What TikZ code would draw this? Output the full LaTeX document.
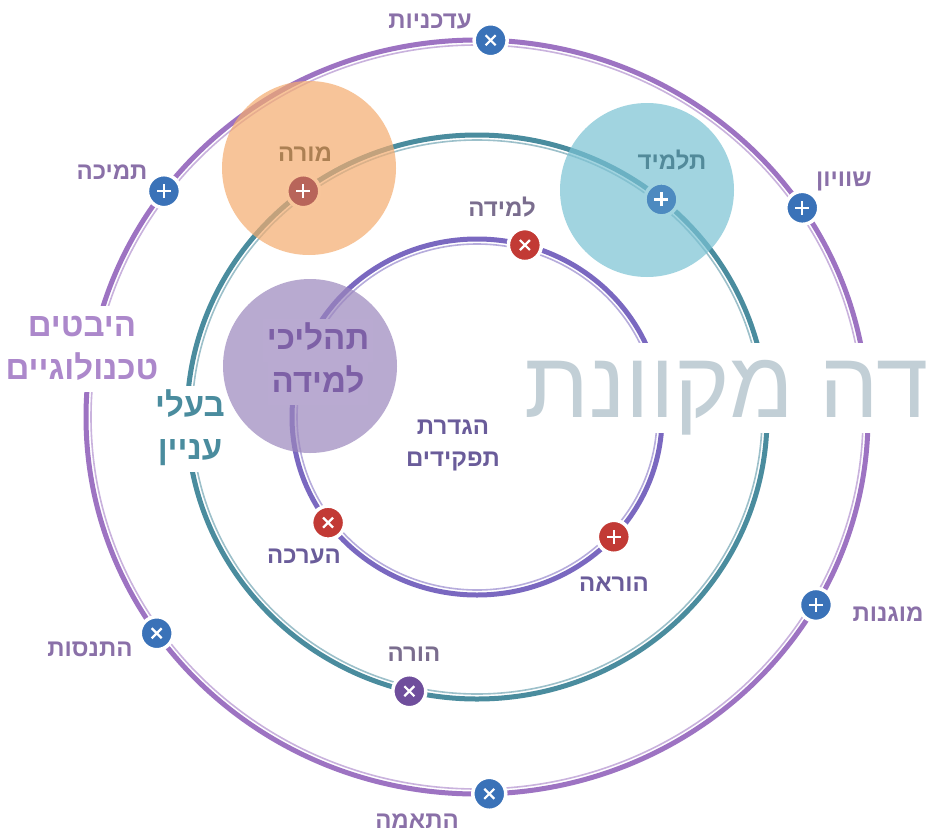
\documentclass[tikz,border=0pt]{standalone}
\usepackage{fontspec}
\usepackage{tikz}
\usetikzlibrary{positioning}
\newfontfamily\hebfont[Script=Hebrew]{Liberation Sans}
\TeXXeTstate=1
\newcommand{\rtl}[1]{\beginR#1\endR}
\definecolor{ringout}{HTML}{9D73C2}
\definecolor{ringmid}{HTML}{4A8C9E}
\definecolor{ringinn}{HTML}{7A68C0}
\definecolor{mblue}{HTML}{3A72B8}
\definecolor{mred}{HTML}{C23A35}
\definecolor{mbrick}{HTML}{B8655A}
\definecolor{mpurple}{HTML}{6F4E9C}
\definecolor{diskorange}{HTML}{F5AC6F}
\definecolor{diskcyan}{HTML}{7AC2D3}
\definecolor{diskpurple}{HTML}{9B86BD}
\definecolor{seenorange}{HTML}{F8C59A}
\definecolor{seencyan}{HTML}{A2D4E0}
\definecolor{seenpurple}{HTML}{B9AAD1}
\definecolor{txtout}{HTML}{8A70A8}
\definecolor{txtinn}{HTML}{6A5C9A}
\definecolor{txtmid}{HTML}{7A6D8E}
\definecolor{bigtxt}{HTML}{C2CFD6}
\tikzset{
  ring/.style={line width=5pt},
  ringthin/.style={line width=1.6pt},
  dotmark/.style={circle, minimum size=33pt, inner sep=0pt, draw=white, line width=3.5pt},
  markplus/.style={dotmark, path picture={
      \draw[white, line width=2.2pt]
        ([xshift=-7pt]path picture bounding box.center) -- ([xshift=7pt]path picture bounding box.center)
        ([yshift=-7pt]path picture bounding box.center) -- ([yshift=7pt]path picture bounding box.center);}},
  markcross/.style={dotmark, path picture={
      \draw[white, line width=2.2pt]
        ([shift={(-5pt,-5pt)}]path picture bounding box.center) -- ([shift={(5pt,5pt)}]path picture bounding box.center)
        ([shift={(-5pt,5pt)}]path picture bounding box.center) -- ([shift={(5pt,-5pt)}]path picture bounding box.center);}},
  ringdisk/.style={circle, minimum size=174pt, inner sep=0pt, fill opacity=0.7},
  lbl/.style={font=\hebfont\bfseries\fontsize{24}{26}\selectfont, text height=13pt, text depth=0pt, inner sep=2pt},
  biglbl/.style={font=\hebfont\bfseries\fontsize{33}{36}\selectfont, text height=18pt, text depth=0pt,
                 inner xsep=4pt, inner ysep=12.5pt},
}
\begin{document}
\begin{tikzpicture}[x=1pt, y=-1pt, node distance=0pt]
  \useasboundingbox (0,0) rectangle (928,835);
  \fill[white] (0,0) rectangle (928,835);
  \coordinate (c) at (477,417);
  % three rings
  \foreach \col/\rx/\ry/\sx/\sy in {ringout/391/377/386/372, ringmid/290/282/285/277, ringinn/185/178/180/173} {
    \draw[ring, \col] (c) ellipse [x radius=\rx, y radius=\ry];
    \draw[ringthin, \col!55] (c) ellipse [x radius=\sx, y radius=\sy];
  }
  % labels that cut the rings
  \node[biglbl, fill=white, text=ringout!85] (l-tech1) at (82,327) {\rtl{היבטים}};
  \node[biglbl, fill=white, text=ringout!85, below=of l-tech1] (l-tech2) {\rtl{טכנולוגיים}};
  \node[biglbl, fill=white, text=ringmid] (l-stake1) at (190,407) {\rtl{בעלי}};
  \node[biglbl, fill=white, text=ringmid, below=of l-stake1] (l-stake2) {\rtl{עניין}};
  \node[anchor=base east, fill=white, inner sep=0pt, text height=74pt, text depth=16pt, text=bigtxt,
        font=\hebfont\fontsize{94}{94}\selectfont] (l-online) at (929,417) {\rtl{דה מקוונת}};
  % disks
  \node[ringdisk, fill=diskorange] (d-teacher) at (309,168) {};
  \node[ringdisk, fill=diskcyan] (d-student) at (647,190) {};
  \node[ringdisk, fill=diskpurple] (d-proc) at (310,366) {};
  % outer ring markers
  \node[markcross, fill=mblue] (m-upd) at ([shift={(-88:391 and 377)}]c) {};
  \node[markplus, fill=mblue] (m-eq) at ([shift={(-33.7:391 and 377)}]c) {};
  \node[markplus, fill=mblue] (m-sup) at ([shift={(-143.2:391 and 377)}]c) {};
  \node[markplus, fill=mblue] (m-safe) at ([shift={(29.9:391 and 377)}]c) {};
  \node[markcross, fill=mblue] (m-exp) at ([shift={(145:391 and 377)}]c) {};
  \node[markcross, fill=mblue] (m-fit) at ([shift={(88.2:391 and 377)}]c) {};
  % middle ring markers
  \node[markplus, fill=mbrick, draw=seenorange] (m-teacher) at ([shift={(-126.8:290 and 282)}]c) {};
  \node[markplus, fill=mblue!70!diskcyan, draw=seencyan] (m-student) at ([shift={(-50.5:290 and 282)}]c) {};
  \node[markcross, fill=mpurple] (m-parent) at ([shift={(103.5:290 and 282)}]c) {};
  % inner ring markers
  \node[markcross, fill=mred] (m-learn) at ([shift={(-75:185 and 178)}]c) {};
  \node[markcross, fill=mred] (m-assess) at ([shift={(143.6:185 and 178)}]c) {};
  \node[markplus, fill=mred] (m-teach) at ([shift={(42.3:185 and 178)}]c) {};
  % texts
  \node[biglbl, fill=seenpurple, text=mpurple!90] (l-proc1) at (318,340) {\rtl{תהליכי}};
  \node[biglbl, fill=seenpurple, text=mpurple!90, below=of l-proc1] (l-proc2) {\rtl{למידה}};
  \node[lbl, text=brown!70!gray] (l-teacher) at (305,155) {\rtl{מורה}};
  \node[lbl, text=ringmid!85!gray] (l-student) at (672,163) {\rtl{תלמיד}};
  \node[lbl, text=txtout] (l-upd) at (430,22) {\rtl{עדכניות}};
  \node[lbl, text=txtout] (l-eq) at (844,180) {\rtl{שוויון}};
  \node[lbl, text=txtout] (l-sup) at (112,173) {\rtl{תמיכה}};
  \node[lbl, text=txtout] (l-safe) at (888,615) {\rtl{מוגנות}};
  \node[lbl, text=txtout] (l-exp) at (90,650) {\rtl{התנסות}};
  \node[lbl, text=txtout] (l-fit) at (417,822) {\rtl{התאמה}};
  \node[lbl, text=txtmid] (l-parent) at (414,655) {\rtl{הורה}};
  \node[lbl, text=txtmid] (l-learn) at (502,210) {\rtl{למידה}};
  \node[lbl, text=txtinn] (l-assess) at (304,557) {\rtl{הערכה}};
  \node[lbl, text=txtinn] (l-teach) at (614,585) {\rtl{הוראה}};
  \node[lbl, text=txtinn, inner ysep=9.5pt] (l-roles1) at (453,428) {\rtl{הגדרת}};
  \node[lbl, text=txtinn, inner ysep=9.5pt, below=of l-roles1] (l-roles2) {\rtl{תפקידים}};
\end{tikzpicture}
\end{document}
